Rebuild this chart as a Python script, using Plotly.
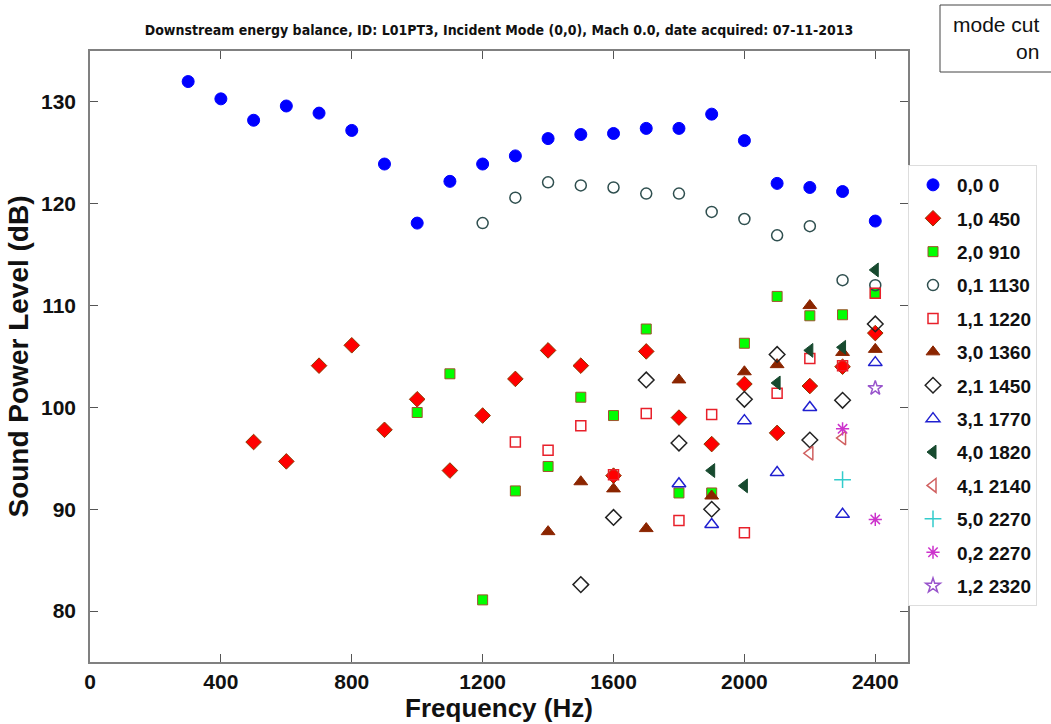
import plotly.graph_objects as go

title_text = "Downstream energy balance, ID: L01PT3, Incident Mode (0,0), Mach 0.0, date acquired: 07-11-2013"

# ---- data (frequency in Hz, level in dB) ----
f_00 = [300, 400, 500, 600, 700, 800, 900, 1000, 1100, 1200, 1300, 1400, 1500, 1600,
        1700, 1800, 1900, 2000, 2100, 2200, 2300, 2400]
v_00 = [132.0, 130.3, 128.2, 129.6, 128.9, 127.2, 123.9, 118.1, 122.2, 123.9, 124.7, 126.4,
        126.8, 126.9, 127.4, 127.4, 128.8, 126.2, 122.0, 121.6, 121.2, 118.3]

f_10 = [500, 600, 700, 800, 900, 1000, 1100, 1200, 1300, 1400, 1500, 1600, 1700, 1800,
        1900, 2000, 2100, 2200, 2300, 2400]
v_10 = [96.6, 94.7, 104.1, 106.1, 97.8, 100.8, 93.8, 99.2, 102.8, 105.6, 104.1, 93.3,
        105.5, 99.0, 96.4, 102.3, 97.5, 102.1, 104.0, 107.3]

f_20 = [1000, 1100, 1200, 1300, 1400, 1500, 1600, 1700, 1800, 1900, 2000, 2100, 2200, 2300, 2400]
v_20 = [99.5, 103.3, 81.1, 91.8, 94.2, 101.0, 99.2, 107.7, 91.6, 91.6, 106.3, 110.9, 109.0, 109.1, 111.2]

f_01 = [1200, 1300, 1400, 1500, 1600, 1700, 1800, 1900, 2000, 2100, 2200, 2300, 2400]
v_01 = [118.1, 120.6, 122.1, 121.8, 121.6, 121.0, 121.0, 119.2, 118.5, 116.9, 117.8, 112.5, 112.0]

f_11 = [1300, 1400, 1500, 1600, 1700, 1800, 1900, 2000, 2100, 2200, 2300, 2400]
v_11 = [96.6, 95.8, 98.2, 93.4, 99.4, 88.9, 99.3, 87.7, 101.4, 104.8, 104.1, 111.2]

f_30 = [1400, 1500, 1600, 1700, 1800, 1900, 2000, 2100, 2200, 2300, 2400]
v_30 = [87.8, 92.7, 92.0, 88.1, 102.7, 91.3, 103.5, 104.2, 110.0, 105.4, 105.7]

f_21 = [1500, 1600, 1700, 1800, 1900, 2000, 2100, 2200, 2300, 2400]
v_21 = [82.6, 89.2, 102.7, 96.5, 90.0, 100.8, 105.2, 96.8, 100.7, 108.2]

f_31 = [1800, 1900, 2000, 2100, 2200, 2300, 2400]
v_31 = [92.5, 88.5, 98.7, 93.6, 100.0, 89.5, 104.4]

f_40 = [1900, 2000, 2100, 2200, 2300, 2400]
v_40 = [93.8, 92.3, 102.4, 105.6, 105.9, 113.5]

f_41 = [2200, 2300]
v_41 = [95.5, 97.0]

f_50 = [2300]
v_50 = [92.9]

f_02 = [2300, 2400]
v_02 = [97.9, 89.0]

f_12 = [2400]
v_12 = [101.9]

x_ticks = [0, 400, 800, 1200, 1600, 2000, 2400]
y_ticks = [80, 90, 100, 110, 120, 130]

# ---- series styling ----
series = [
    ("0,0 0",     f_00, v_00, "circle",             "#0000FF", "#0000FF", 12),
    ("1,0 450",   f_10, v_10, "diamond",            "#FF0000", "#8B3A00", 12),
    ("2,0 910",   f_20, v_20, "square",             "#00FF00", "#A0522D", 10),
    ("0,1 1130",  f_01, v_01, "circle-open",        "#2F4F4F", "#2F4F4F", 11),
    ("1,1 1220",  f_11, v_11, "square-open",        "#E8202A", "#E8202A", 10),
    ("3,0 1360",  f_30, v_30, "triangle-up",        "#8B2500", "#8B2500", 12),
    ("2,1 1450",  f_21, v_21, "diamond-open",       "#222222", "#222222", 12),
    ("3,1 1770",  f_31, v_31, "triangle-up-open",   "#2020D0", "#2020D0", 12),
    ("4,0 1820",  f_40, v_40, "triangle-left",      "#174A2F", "#174A2F", 12),
    ("4,1 2140",  f_41, v_41, "triangle-left-open", "#D06060", "#D06060", 12),
    ("5,0 2270",  f_50, v_50, "cross-thin-open",    "#33CCCC", "#33CCCC", 12),
    ("0,2 2270",  f_02, v_02, "asterisk-open",      "#CC33CC", "#CC33CC", 11),
    ("1,2 2320",  f_12, v_12, "star-open",          "#9955CC", "#9955CC", 11),
]

fig = go.Figure()
for i, (name, fx, fy, sym, fill, line, size) in enumerate(series):
    fig.add_trace(go.Scatter(
        x=fx, y=fy, mode="markers", name=name, legendgroup=f"g{i}",
        marker=dict(symbol=sym, color=fill, size=size,
                    line=dict(color=line, width=1.5 if "open" in sym else 1)),
    ))

axis_font = dict(family="Liberation Sans, Arial, sans-serif", size=21, color="#111111", weight="bold")
xtitle_font = dict(family="Liberation Sans, Arial, sans-serif", size=26, color="#111111", weight="bold")
ytitle_font = dict(family="Liberation Sans, Arial, sans-serif", size=28, color="#111111", weight="bold")

fig.update_layout(
    width=1051, height=724,
    margin=dict(l=90, r=143, t=51, b=62, autoexpand=False),
    paper_bgcolor="white", plot_bgcolor="white",
    showlegend=True,
    title=dict(text=title_text, x=0.5, xref="paper", y=1 - 30 / 724, yref="container",
               yanchor="middle", xanchor="center",
               font=dict(family="Liberation Sans Narrow, Arial Narrow, DejaVu Sans Condensed, sans-serif",
                         size=14, color="#111111", weight="bold")),
    legend=dict(x=1.0, xanchor="left", y=(662 - 165) / 611, yanchor="top",
                bgcolor="white", bordercolor="#DDDDDD", borderwidth=1,
                tracegroupgap=5.7, itemwidth=38,
                font=dict(family="Liberation Sans, Arial, sans-serif", size=19, color="#111111", weight="bold")),
    xaxis=dict(range=[0, 2500], tickvals=x_ticks, ticks="inside", ticklen=8, tickcolor="#555555",
               showline=True, linecolor="#808080", linewidth=1.5, mirror="ticks",
               showgrid=False, zeroline=False, tickfont=axis_font,
               title=dict(text="Frequency (Hz)", font=xtitle_font, standoff=6)),
    yaxis=dict(range=[75, 135], tickvals=y_ticks, ticks="inside", ticklen=8, tickcolor="#555555",
               showline=True, linecolor="#808080", linewidth=1.5, mirror="ticks",
               showgrid=False, zeroline=False, tickfont=axis_font, ticklabelstandoff=8,
               title=dict(text="Sound Power Level (dB)", font=ytitle_font, standoff=4)),
    shapes=[dict(type="rect", xref="paper", yref="paper",
                 x0=(940 - 90) / 818, x1=1.25, y0=(662 - 72) / 611, y1=(662 - 5) / 611,
                 line=dict(color="#444444", width=1), fillcolor="white", layer="above")],
    annotations=[dict(text="mode cut<br>on", xref="paper", yref="paper",
                      x=(1042 - 90) / 818, y=(662 - 38) / 611, xanchor="right", yanchor="middle",
                      align="right", showarrow=False,
                      font=dict(family="Liberation Sans, Arial, sans-serif", size=21, color="#111111"))],
)

fig.write_html("out.html")
